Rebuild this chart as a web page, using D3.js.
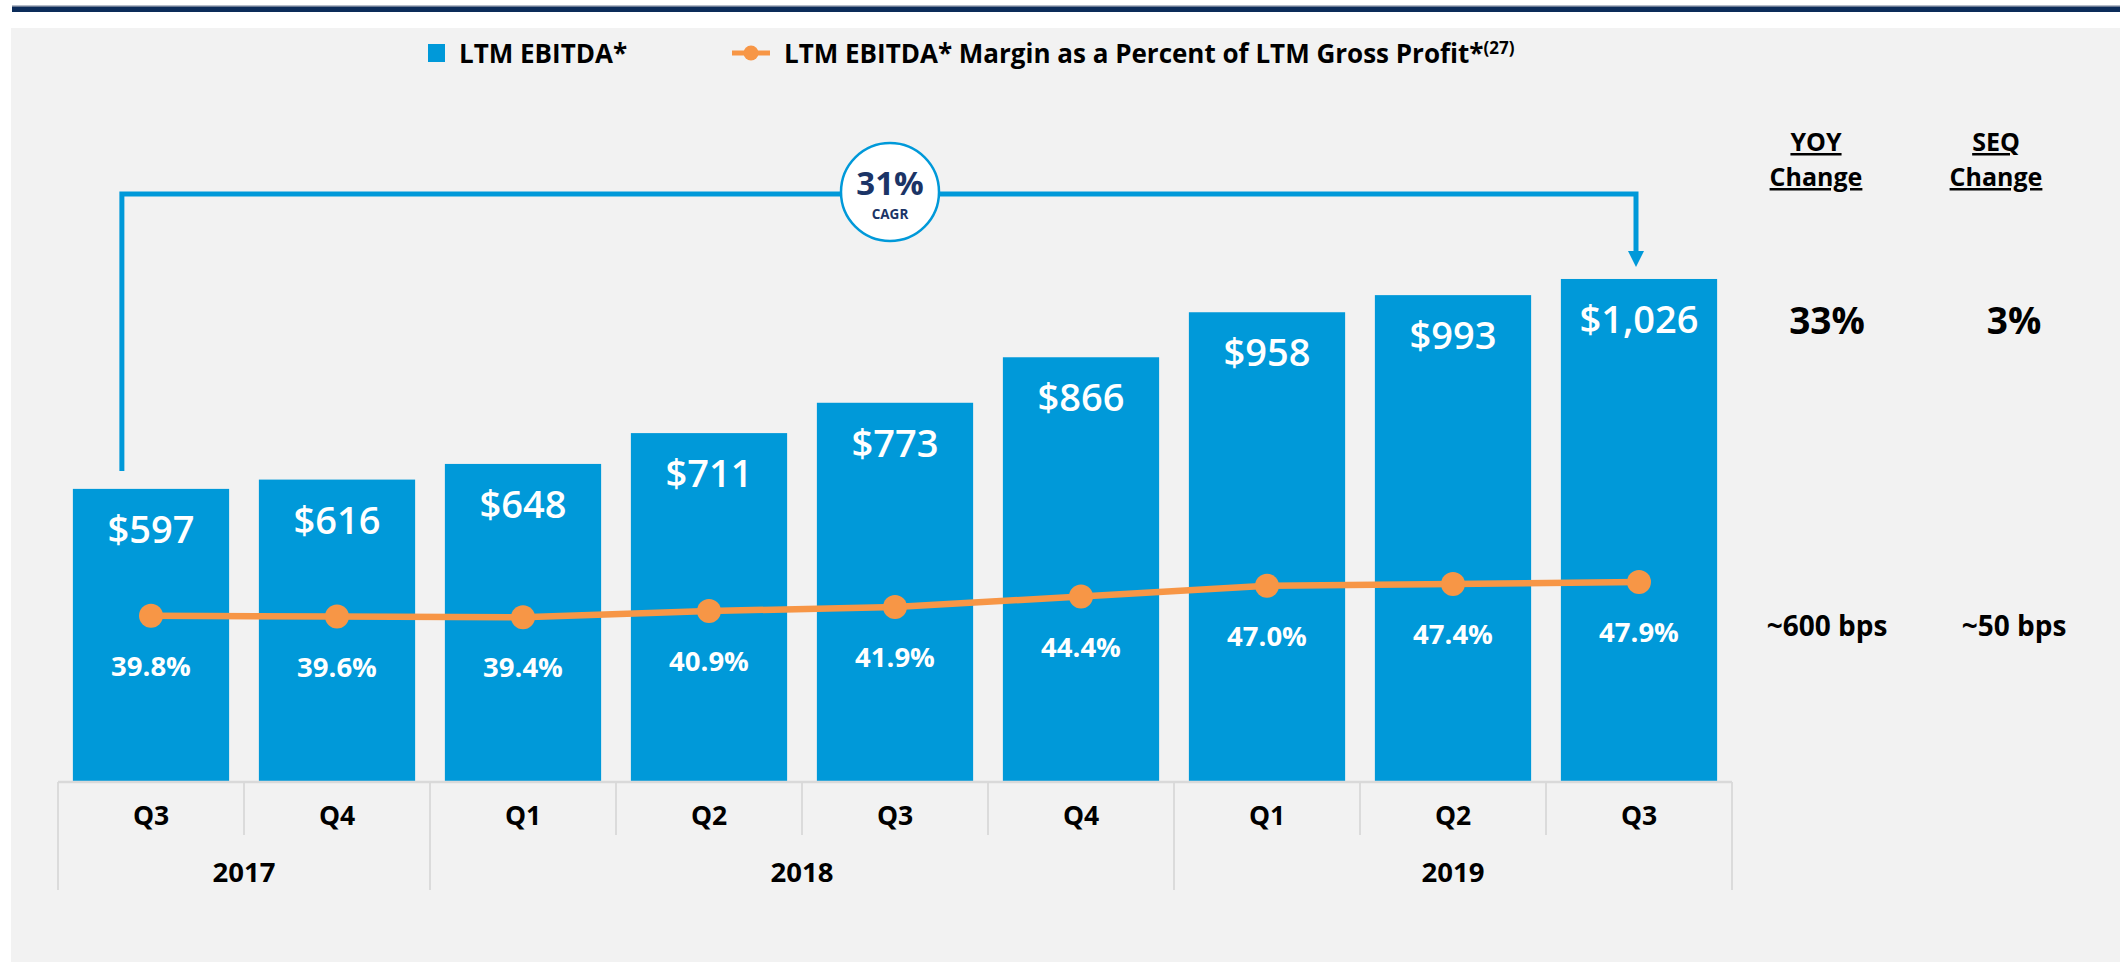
<!DOCTYPE html>
<html>
<head>
<meta charset="utf-8">
<title>LTM EBITDA</title>
<script src="https://cdn.jsdelivr.net/npm/d3@7"></script>
<style>
  html, body { margin: 0; padding: 0; background: #ffffff; }
  svg { display: block; font-family: "Open Sans", "Lato", "DejaVu Sans", sans-serif; }
</style>
</head>
<body>
<svg id="chart" width="2120" height="962"></svg>
<script>
// Quarter categories and their year groups
const quarters = ["Q3", "Q4", "Q1", "Q2", "Q3", "Q4", "Q1", "Q2", "Q3"];
const yearLabels = ["2017", "2018", "2019"];
const yearSpans = [2, 4, 3];

// LTM EBITDA ($M) and margin as % of LTM gross profit
const ebitda = [597, 616, 648, 711, 773, 866, 958, 993, 1026];
const margin = [39.8, 39.6, 39.4, 40.9, 41.9, 44.4, 47.0, 47.4, 47.9];

// Legend entries
const legendBar = "LTM EBITDA*";
const legendLine = "LTM EBITDA* Margin as a Percent of LTM Gross Profit*";
const legendNote = "(27)";

// CAGR callout
const cagrValue = "31%";
const cagrLabel = "CAGR";

// Change columns
const changeTitles = ["YOY", "SEQ"];
const changeSubtitle = "Change";
const changeEbitda = ["33%", "3%"];
const changeMargin = ["~600 bps", "~50 bps"];

const BLUE = "#0099d9";
const ORANGE = "#f79646";
const NAVY = "#1b3466";
const AXIS = "#d9d9d9";

const svg = d3.select("#chart");

// Page frame: header rule and grey panel
svg.append("rect").attr("x", 12).attr("y", 5.5).attr("width", 2108).attr("height", 1.5).attr("fill", "#6b7a93");
svg.append("rect").attr("x", 12).attr("y", 7).attr("width", 2108).attr("height", 5).attr("fill", "#0c2c5a");
svg.append("rect").attr("x", 11).attr("y", 28).attr("width", 2109).attr("height", 934).attr("fill", "#f2f2f2");

// Scales
const baseY = 781;
const x = d3.scaleBand()
  .domain(d3.range(quarters.length))
  .range([58, 1732])
  .paddingInner(0.16)
  .paddingOuter(0.08);

const yBar = d3.scaleLinear().domain([0, 1000]).range([baseY, baseY - 489.3]);
const yPct = d3.scaleLinear().domain([0, 100]).range([baseY, baseY - 415.4]);

const cx = i => x(i) + x.bandwidth() / 2;

// Bars
svg.append("g").selectAll("rect")
  .data(ebitda)
  .join("rect")
  .attr("x", (d, i) => x(i))
  .attr("y", d => yBar(d))
  .attr("width", x.bandwidth())
  .attr("height", d => baseY - yBar(d))
  .attr("fill", BLUE);

// Bar value labels
svg.append("g").selectAll("text")
  .data(ebitda)
  .join("text")
  .attr("x", (d, i) => cx(i))
  .attr("y", d => yBar(d) + 54)
  .attr("text-anchor", "middle")
  .attr("fill", "#ffffff")
  .attr("font-size", 38)
  .attr("font-weight", 600)
  .text(d => "$" + d3.format(",")(d));

// Margin line
const line = d3.line()
  .x((d, i) => cx(i))
  .y(d => yPct(d));

svg.append("path")
  .datum(margin)
  .attr("d", line)
  .attr("fill", "none")
  .attr("stroke", ORANGE)
  .attr("stroke-width", 6.5);

svg.append("g").selectAll("circle")
  .data(margin)
  .join("circle")
  .attr("cx", (d, i) => cx(i))
  .attr("cy", d => yPct(d))
  .attr("r", 12)
  .attr("fill", ORANGE);

// Margin labels
svg.append("g").selectAll("text")
  .data(margin)
  .join("text")
  .attr("x", (d, i) => cx(i))
  .attr("y", d => yPct(d) + 60)
  .attr("text-anchor", "middle")
  .attr("fill", "#ffffff")
  .attr("font-size", 27.5)
  .attr("font-weight", 700)
  .text(d => d3.format(".1f")(d) + "%");

// Category axis: quarter row and year row
const axisG = svg.append("g");
const step = x.step();
const x0 = x.range()[0];
const axisY = 782;

axisG.append("line")
  .attr("x1", x0).attr("x2", x.range()[1])
  .attr("y1", axisY).attr("y2", axisY)
  .attr("stroke", AXIS).attr("stroke-width", 2.5);

const yearBounds = [0];
yearSpans.forEach(s => yearBounds.push(yearBounds[yearBounds.length - 1] + s));

d3.range(quarters.length + 1).forEach(k => {
  const isYear = yearBounds.includes(k);
  axisG.append("line")
    .attr("x1", x0 + k * step).attr("x2", x0 + k * step)
    .attr("y1", axisY).attr("y2", isYear ? 890 : 835)
    .attr("stroke", AXIS).attr("stroke-width", 1.8);
});

axisG.selectAll("text.q")
  .data(quarters)
  .join("text")
  .attr("class", "q")
  .attr("x", (d, i) => cx(i))
  .attr("y", 825)
  .attr("text-anchor", "middle")
  .attr("font-size", 26.5)
  .attr("font-weight", 700)
  .attr("fill", "#000")
  .text(d => d);

axisG.selectAll("text.yr")
  .data(yearLabels)
  .join("text")
  .attr("class", "yr")
  .attr("x", (d, i) => x0 + step * (yearBounds[i] + yearBounds[i + 1]) / 2)
  .attr("y", 882)
  .attr("text-anchor", "middle")
  .attr("font-size", 27.5)
  .attr("font-weight", 700)
  .attr("fill", "#000")
  .text(d => d);

// CAGR bracket from first to last bar
const bracketY = 194;
const bx1 = x(0) + 49;
const bx2 = cx(ebitda.length - 1) - 3;
const tipY = yBar(ebitda[ebitda.length - 1]) - 12;
svg.append("path")
  .attr("d", `M${bx1},${yBar(ebitda[0]) - 18} V${bracketY} H${bx2} V${tipY - 14}`)
  .attr("fill", "none")
  .attr("stroke", BLUE)
  .attr("stroke-width", 5);
svg.append("path")
  .attr("d", `M${bx2 - 8},${tipY - 16} L${bx2 + 8},${tipY - 16} L${bx2},${tipY} Z`)
  .attr("fill", BLUE);

const cagrG = svg.append("g").attr("transform", "translate(890,192)");
cagrG.append("circle").attr("r", 49).attr("fill", "#ffffff").attr("stroke", BLUE).attr("stroke-width", 2.5);
cagrG.append("text").attr("y", 3).attr("text-anchor", "middle")
  .attr("font-size", 33).attr("font-weight", 700).attr("fill", NAVY).text(cagrValue);
cagrG.append("text").attr("y", 27).attr("text-anchor", "middle")
  .attr("font-size", 13.5).attr("font-weight", 700).attr("fill", NAVY).text(cagrLabel);

// Legend
const legend = svg.append("g");
legend.append("rect").attr("x", 428).attr("y", 44).attr("width", 17).attr("height", 18).attr("fill", BLUE);
legend.append("text").attr("x", 459).attr("y", 63)
  .attr("font-size", 26).attr("font-weight", 700).attr("fill", "#000").text(legendBar);
legend.append("line").attr("x1", 732).attr("x2", 770).attr("y1", 53).attr("y2", 53)
  .attr("stroke", ORANGE).attr("stroke-width", 5);
legend.append("circle").attr("cx", 751).attr("cy", 53).attr("r", 7.5).attr("fill", ORANGE);
const lt = legend.append("text").attr("x", 784).attr("y", 63)
  .attr("font-size", 26).attr("font-weight", 700).attr("fill", "#000");
lt.append("tspan").text(legendLine);
lt.append("tspan").attr("dy", -9).attr("font-size", 17).text(legendNote);

// Change columns
const headerX = [1816, 1996];
const valueX = [1827, 2014];
const changeG = svg.append("g").attr("font-weight", 700).attr("fill", "#000").attr("text-anchor", "middle");
changeTitles.forEach((t, i) => {
  changeG.append("text").attr("x", headerX[i]).attr("y", 151).attr("font-size", 25)
    .attr("text-decoration", "underline").text(t);
  changeG.append("text").attr("x", headerX[i]).attr("y", 186).attr("font-size", 25)
    .attr("text-decoration", "underline").text(changeSubtitle);
  changeG.append("text").attr("x", valueX[i]).attr("y", 334).attr("font-size", 37).text(changeEbitda[i]);
  changeG.append("text").attr("x", valueX[i]).attr("y", 636).attr("font-size", 28).text(changeMargin[i]);
});
</script>
</body>
</html>
